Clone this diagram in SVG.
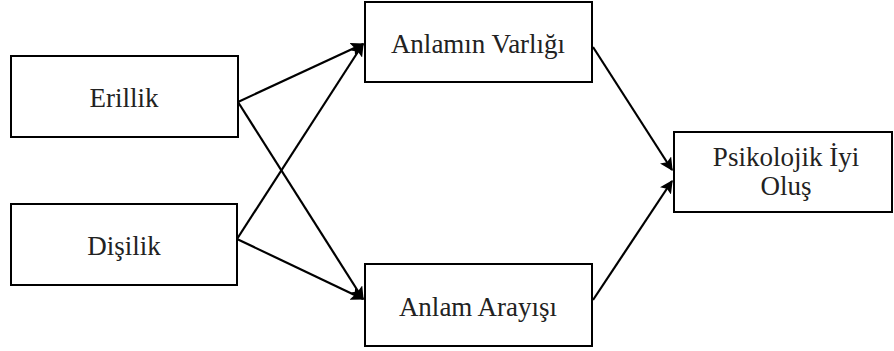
<svg xmlns="http://www.w3.org/2000/svg" width="894" height="351" viewBox="0 0 894 351">
  <style>
    .box { fill: #fff; stroke: #000; stroke-width: 2; }
    .lbl { font-family: "Liberation Serif", "Times New Roman", serif; font-size: 27px; fill: #222; text-anchor: middle; }
    .edge { stroke: #000; stroke-width: 2.2; fill: none; marker-end: url(#arrow); }
  </style>
  <defs>
    <marker id="arrow" viewBox="0 0 10 10" refX="9" refY="5" markerWidth="6" markerHeight="6" orient="auto" markerUnits="strokeWidth">
      <path d="M0,0 L10,5 L0,10 L2,5 Z" fill="#000"/>
    </marker>
  </defs>

  <rect width="894" height="351" fill="#fff"/>

  <g id="connectors">
    <line class="edge" x1="238" y1="102" x2="363" y2="44"/>
    <line class="edge" x1="238" y1="102" x2="363" y2="299"/>
    <line class="edge" x1="237" y1="239" x2="363" y2="44"/>
    <line class="edge" x1="237" y1="239" x2="363" y2="299"/>
    <line class="edge" x1="593" y1="47" x2="672" y2="170"/>
    <line class="edge" x1="593" y1="300" x2="672" y2="181"/>
  </g>

  <g id="erillik">
    <rect class="box" x="11" y="56" width="227" height="81"/>
    <text class="lbl" x="124" y="107">Erillik</text>
  </g>

  <g id="disilik">
    <rect class="box" x="11" y="204" width="226" height="81"/>
    <text class="lbl" x="124" y="255">Dişilik</text>
  </g>

  <g id="anlamin-varligi">
    <rect class="box" x="365" y="2" width="227" height="80"/>
    <text class="lbl" x="478" y="53">Anlamın Varlığı</text>
  </g>

  <g id="anlam-arayisi">
    <rect class="box" x="365" y="264" width="227" height="82"/>
    <text class="lbl" x="478" y="316">Anlam Arayışı</text>
  </g>

  <g id="psikolojik-iyi-olus">
    <rect class="box" x="674" y="132" width="218" height="80"/>
    <text class="lbl" x="786" y="166">Psikolojik İyi</text>
    <text class="lbl" x="786" y="195">Oluş</text>
  </g>
</svg>
